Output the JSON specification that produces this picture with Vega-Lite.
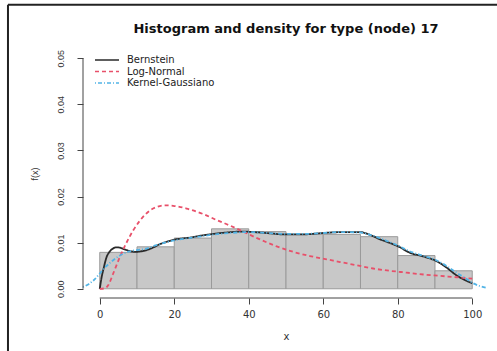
{
  "$schema": "https://vega.github.io/schema/vega-lite/v6.json",
  "autosize": "none",
  "width": 406,
  "height": 249,
  "padding": {"left": 83, "top": 49, "right": 8, "bottom": 53},
  "background": "white",
  "config": {"view": {"stroke": null}},
  "title": {"text": "Histogram and density for type (node) 17", "font": "DejaVu Sans", "fontSize": 13, "fontWeight": "bold", "color": "#111", "offset": -32, "anchor": "middle", "frame": "group"},
  "datasets": {
    "hist": [
      {"start": 0, "end": 10, "density": 0.0079},
      {"start": 10, "end": 20, "density": 0.0091},
      {"start": 20, "end": 30, "density": 0.0110},
      {"start": 30, "end": 40, "density": 0.0130},
      {"start": 40, "end": 50, "density": 0.0124},
      {"start": 50, "end": 60, "density": 0.0118},
      {"start": 60, "end": 70, "density": 0.0118},
      {"start": 70, "end": 80, "density": 0.0113},
      {"start": 80, "end": 90, "density": 0.0072},
      {"start": 90, "end": 100, "density": 0.0039}
    ],
    "curves": [
      {"series": "Bernstein", "x": 0, "y": 0},
      {"series": "Bernstein", "x": 0.5, "y": 0.0025},
      {"series": "Bernstein", "x": 1, "y": 0.0043},
      {"series": "Bernstein", "x": 1.8, "y": 0.0068},
      {"series": "Bernstein", "x": 2.6, "y": 0.0080},
      {"series": "Bernstein", "x": 3.5, "y": 0.0087},
      {"series": "Bernstein", "x": 4.5, "y": 0.0090},
      {"series": "Bernstein", "x": 5.5, "y": 0.0089},
      {"series": "Bernstein", "x": 6.8, "y": 0.0085},
      {"series": "Bernstein", "x": 8, "y": 0.0082},
      {"series": "Bernstein", "x": 9.5, "y": 0.0080},
      {"series": "Bernstein", "x": 11, "y": 0.0081},
      {"series": "Bernstein", "x": 12.6, "y": 0.0084},
      {"series": "Bernstein", "x": 14.5, "y": 0.0090},
      {"series": "Bernstein", "x": 16.2, "y": 0.0097},
      {"series": "Bernstein", "x": 18, "y": 0.0102},
      {"series": "Bernstein", "x": 19.7, "y": 0.0106},
      {"series": "Bernstein", "x": 22, "y": 0.0109},
      {"series": "Bernstein", "x": 24.2, "y": 0.0111},
      {"series": "Bernstein", "x": 27, "y": 0.0115},
      {"series": "Bernstein", "x": 30.5, "y": 0.0119},
      {"series": "Bernstein", "x": 34, "y": 0.0122},
      {"series": "Bernstein", "x": 38, "y": 0.0124},
      {"series": "Bernstein", "x": 43, "y": 0.0122},
      {"series": "Bernstein", "x": 46, "y": 0.0120},
      {"series": "Bernstein", "x": 49.3, "y": 0.0118},
      {"series": "Bernstein", "x": 54.6, "y": 0.0118},
      {"series": "Bernstein", "x": 60, "y": 0.0121},
      {"series": "Bernstein", "x": 65.4, "y": 0.0123},
      {"series": "Bernstein", "x": 69.9, "y": 0.0123},
      {"series": "Bernstein", "x": 71.5, "y": 0.0120},
      {"series": "Bernstein", "x": 73.4, "y": 0.0114},
      {"series": "Bernstein", "x": 75, "y": 0.0108},
      {"series": "Bernstein", "x": 77, "y": 0.0102},
      {"series": "Bernstein", "x": 80.1, "y": 0.0092},
      {"series": "Bernstein", "x": 83.3, "y": 0.0078},
      {"series": "Bernstein", "x": 86.9, "y": 0.0070},
      {"series": "Bernstein", "x": 90.4, "y": 0.0060},
      {"series": "Bernstein", "x": 93.1, "y": 0.0046},
      {"series": "Bernstein", "x": 95.8, "y": 0.0029},
      {"series": "Bernstein", "x": 98, "y": 0.0019},
      {"series": "Bernstein", "x": 100, "y": 0.0012},
      {"series": "Log-Normal", "x": 0, "y": 0},
      {"series": "Log-Normal", "x": 1.4, "y": 0.0001},
      {"series": "Log-Normal", "x": 2.3, "y": 0.0008},
      {"series": "Log-Normal", "x": 3.6, "y": 0.0033},
      {"series": "Log-Normal", "x": 5.4, "y": 0.0069},
      {"series": "Log-Normal", "x": 7, "y": 0.0097},
      {"series": "Log-Normal", "x": 9, "y": 0.0127},
      {"series": "Log-Normal", "x": 10.8, "y": 0.0148},
      {"series": "Log-Normal", "x": 13.5, "y": 0.0170},
      {"series": "Log-Normal", "x": 15.5, "y": 0.0178},
      {"series": "Log-Normal", "x": 17.5, "y": 0.0181},
      {"series": "Log-Normal", "x": 19.7, "y": 0.0180},
      {"series": "Log-Normal", "x": 23.3, "y": 0.0174},
      {"series": "Log-Normal", "x": 27.8, "y": 0.0162},
      {"series": "Log-Normal", "x": 31.4, "y": 0.0149},
      {"series": "Log-Normal", "x": 34.1, "y": 0.0140},
      {"series": "Log-Normal", "x": 38.5, "y": 0.0124},
      {"series": "Log-Normal", "x": 43, "y": 0.0107},
      {"series": "Log-Normal", "x": 47.5, "y": 0.0092},
      {"series": "Log-Normal", "x": 52, "y": 0.0080},
      {"series": "Log-Normal", "x": 56.4, "y": 0.0071},
      {"series": "Log-Normal", "x": 60.9, "y": 0.0064},
      {"series": "Log-Normal", "x": 64.5, "y": 0.0058},
      {"series": "Log-Normal", "x": 69, "y": 0.0051},
      {"series": "Log-Normal", "x": 73.4, "y": 0.0044},
      {"series": "Log-Normal", "x": 77.9, "y": 0.0039},
      {"series": "Log-Normal", "x": 82.4, "y": 0.0035},
      {"series": "Log-Normal", "x": 86.9, "y": 0.0031},
      {"series": "Log-Normal", "x": 91.3, "y": 0.0028},
      {"series": "Log-Normal", "x": 95.8, "y": 0.0025},
      {"series": "Log-Normal", "x": 100, "y": 0.0022},
      {"series": "Kernel-Gaussiano", "x": -4.5, "y": 0.0004},
      {"series": "Kernel-Gaussiano", "x": -3, "y": 0.0010},
      {"series": "Kernel-Gaussiano", "x": -1.7, "y": 0.0018},
      {"series": "Kernel-Gaussiano", "x": 0, "y": 0.0033},
      {"series": "Kernel-Gaussiano", "x": 0.9, "y": 0.0042},
      {"series": "Kernel-Gaussiano", "x": 2.3, "y": 0.0053},
      {"series": "Kernel-Gaussiano", "x": 3.6, "y": 0.0062},
      {"series": "Kernel-Gaussiano", "x": 5, "y": 0.0070},
      {"series": "Kernel-Gaussiano", "x": 6.3, "y": 0.0076},
      {"series": "Kernel-Gaussiano", "x": 8, "y": 0.0081},
      {"series": "Kernel-Gaussiano", "x": 10, "y": 0.0084},
      {"series": "Kernel-Gaussiano", "x": 12.5, "y": 0.0087},
      {"series": "Kernel-Gaussiano", "x": 15, "y": 0.0094},
      {"series": "Kernel-Gaussiano", "x": 17.5, "y": 0.0100},
      {"series": "Kernel-Gaussiano", "x": 20, "y": 0.0105},
      {"series": "Kernel-Gaussiano", "x": 25, "y": 0.0111},
      {"series": "Kernel-Gaussiano", "x": 30, "y": 0.0117},
      {"series": "Kernel-Gaussiano", "x": 35, "y": 0.0121},
      {"series": "Kernel-Gaussiano", "x": 40, "y": 0.0123},
      {"series": "Kernel-Gaussiano", "x": 45, "y": 0.0121},
      {"series": "Kernel-Gaussiano", "x": 50, "y": 0.0119},
      {"series": "Kernel-Gaussiano", "x": 55, "y": 0.0119},
      {"series": "Kernel-Gaussiano", "x": 60, "y": 0.0121},
      {"series": "Kernel-Gaussiano", "x": 65, "y": 0.0123},
      {"series": "Kernel-Gaussiano", "x": 70, "y": 0.0122},
      {"series": "Kernel-Gaussiano", "x": 73, "y": 0.0116},
      {"series": "Kernel-Gaussiano", "x": 77, "y": 0.0104},
      {"series": "Kernel-Gaussiano", "x": 80, "y": 0.0094},
      {"series": "Kernel-Gaussiano", "x": 83, "y": 0.0082},
      {"series": "Kernel-Gaussiano", "x": 87, "y": 0.0071},
      {"series": "Kernel-Gaussiano", "x": 90, "y": 0.0063},
      {"series": "Kernel-Gaussiano", "x": 93, "y": 0.0050},
      {"series": "Kernel-Gaussiano", "x": 96, "y": 0.0034},
      {"series": "Kernel-Gaussiano", "x": 98, "y": 0.0024},
      {"series": "Kernel-Gaussiano", "x": 100, "y": 0.0013},
      {"series": "Kernel-Gaussiano", "x": 102, "y": 0.0006},
      {"series": "Kernel-Gaussiano", "x": 104, "y": 0.0002}
    ],
    "one": [{}]
  },
  "layer": [
    {
      "data": {"name": "hist"},
      "mark": {"type": "rect", "fill": "#c8c8c8", "stroke": "#9a9a9a", "strokeWidth": 1},
      "encoding": {
        "x": {"field": "start", "type": "quantitative",
          "scale": {"domain": [-4.5, 104.5], "nice": false, "zero": false},
          "axis": {"values": [0, 20, 40, 60, 80, 100], "domain": false, "grid": false, "tickSize": 6, "tickColor": "#444", "labelFont": "DejaVu Sans", "labelFontSize": 10, "labelColor": "#333", "labelPadding": 5, "title": "x", "titleFont": "DejaVu Sans", "titleFontWeight": "normal", "titleFontSize": 10, "titleColor": "#333", "titlePadding": 12}},
        "x2": {"field": "end"},
        "y": {"field": "density", "type": "quantitative",
          "scale": {"domain": [-0.002, 0.052], "nice": false, "zero": false},
          "axis": {"values": [0, 0.01, 0.02, 0.03, 0.04, 0.05], "format": ".2f", "domain": false, "grid": false, "tickSize": 6, "tickColor": "#444", "labelAngle": -90, "labelAlign": "center", "labelBaseline": "bottom", "labelFont": "Liberation Sans", "labelFontSize": 9, "labelColor": "#333", "labelPadding": 12, "title": "f(x)", "titleFont": "Liberation Sans", "titleFontWeight": "normal", "titleFontSize": 9, "titleColor": "#333", "titlePadding": 17}},
        "y2": {"datum": 0}
      }
    },
    {
      "data": {"name": "curves"},
      "mark": {"type": "line", "strokeWidth": 1.8, "interpolate": "monotone", "clip": false},
      "encoding": {
        "x": {"field": "x", "type": "quantitative"},
        "y": {"field": "y", "type": "quantitative"},
        "order": {"field": "x"},
        "color": {"field": "series", "type": "nominal",
          "scale": {"domain": ["Bernstein", "Log-Normal", "Kernel-Gaussiano"], "range": ["#2a2a2a", "#e8506a", "#52b4e6"]},
          "legend": {"title": null, "orient": "none", "legendX": 18, "legendY": 5, "padding": 0, "symbolType": "M-2.4,0H2.4", "symbolSize": 100, "symbolStrokeWidth": 1.5, "labelFont": "DejaVu Sans", "labelFontSize": 10, "labelColor": "#222", "rowPadding": 0.5, "labelOffset": 14}},
        "strokeDash": {"field": "series", "type": "nominal",
          "scale": {"domain": ["Bernstein", "Log-Normal", "Kernel-Gaussiano"], "range": [[1, 0], [4, 3], [1, 2, 4, 2]]},
          "legend": {"title": null, "orient": "none", "legendX": 18, "legendY": 5, "padding": 0, "symbolType": "M-2.4,0H2.4", "symbolSize": 100, "symbolStrokeWidth": 1.5, "labelFont": "DejaVu Sans", "labelFontSize": 10, "labelColor": "#222", "rowPadding": 0.5, "labelOffset": 14}}
      }
    },
    {
      "data": {"name": "one"},
      "mark": {"type": "rule", "color": "#444", "strokeWidth": 1, "clip": false},
      "encoding": {"x": {"datum": 0}, "x2": {"datum": 100}, "y": {"datum": -0.002}}
    },
    {
      "data": {"name": "one"},
      "mark": {"type": "rule", "color": "#444", "strokeWidth": 1, "clip": false},
      "encoding": {"x": {"datum": -4.5}, "y": {"datum": 0}, "y2": {"datum": 0.05}}
    },
    {
      "data": {"name": "one"},
      "mark": {"type": "rule", "color": "#222", "strokeWidth": 2, "clip": false},
      "encoding": {"x": {"datum": -24.64}, "x2": {"datum": 110}, "y": {"datum": 0.0616}}
    },
    {
      "data": {"name": "one"},
      "mark": {"type": "rule", "color": "#222", "strokeWidth": 2, "clip": false},
      "encoding": {"x": {"datum": -24.64}, "y": {"datum": 0.0616}, "y2": {"datum": -0.03}}
    }
  ]
}
